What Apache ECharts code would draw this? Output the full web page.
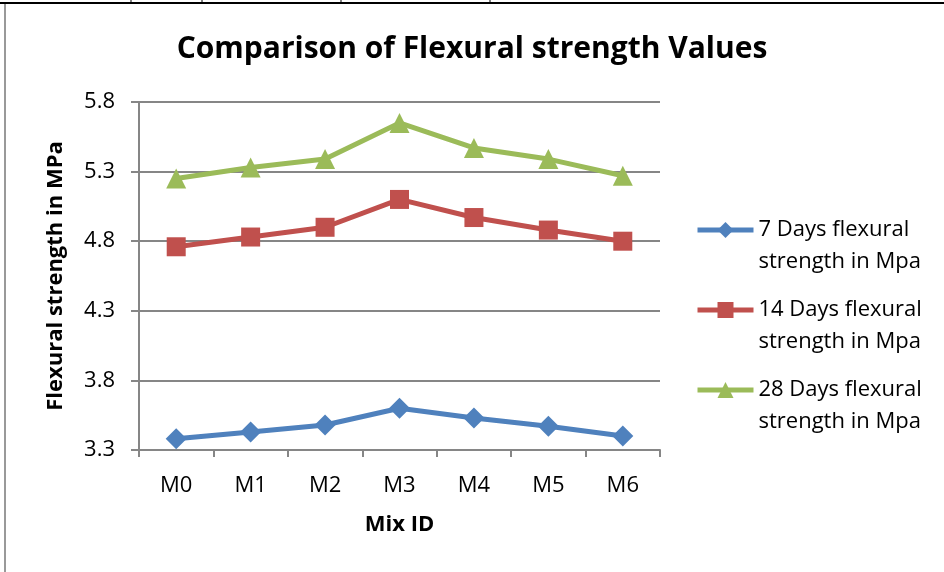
<!DOCTYPE html>
<html>
<head>
<meta charset="utf-8">
<script src="https://cdn.jsdelivr.net/npm/echarts@6/dist/echarts.min.js"></script>
<style>
  html, body { margin: 0; padding: 0; background: #fff; }
  #main { width: 944px; height: 572px; }
</style>
</head>
<body>
<div id="main"></div>
<script>
// data
var mixIds = ['M0', 'M1', 'M2', 'M3', 'M4', 'M5', 'M6'];
var days7 = [3.38, 3.43, 3.48, 3.60, 3.53, 3.47, 3.40];
var days14 = [4.76, 4.83, 4.90, 5.10, 4.97, 4.88, 4.80];
var days28 = [5.25, 5.33, 5.39, 5.65, 5.47, 5.39, 5.27];
var seriesNames = [
  '7 Days flexural\nstrength in Mpa',
  '14 Days flexural\nstrength in Mpa',
  '28 Days flexural\nstrength in Mpa'
];

var font = 'Open Sans';
var chart = echarts.init(document.getElementById('main'));

function line(name, data, color, symbol, size) {
  return {
    name: name,
    type: 'line',
    data: data,
    symbol: symbol,
    symbolSize: size,
    lineStyle: { color: color, width: 5 },
    itemStyle: { color: color },
    emphasis: { disabled: true },
    animation: false
  };
}

chart.setOption({
  backgroundColor: '#fff',
  textStyle: { fontFamily: font },
  title: {
    text: 'Comparison of Flexural strength Values',
    left: 'center',
    top: 29,
    textStyle: { fontFamily: font, fontSize: 30, fontWeight: 'bold', color: '#000' }
  },
  grid: { left: 139, right: 284, top: 102, bottom: 122 },
  legend: {
    orient: 'vertical',
    left: 695,
    top: 182,
    padding: 0,
    itemWidth: 56,
    itemHeight: 20,
    itemGap: -16,
    itemTextGap: 4,
    lineStyle: { width: 5 },
    // blank first line so the icon sits beside the first text line
    formatter: function (name) { return ' \n' + name; },
    textStyle: { fontFamily: font, fontSize: 22, color: '#000', lineHeight: 32 },
    data: seriesNames
  },
  xAxis: {
    type: 'category',
    data: mixIds,
    name: 'Mix ID',
    nameLocation: 'middle',
    nameGap: 64,
    nameTextStyle: { fontFamily: font, fontSize: 22, fontWeight: 'bold', color: '#000' },
    axisLine: { lineStyle: { color: '#868686', width: 2 } },
    axisTick: { show: true, length: 7, lineStyle: { color: '#868686', width: 2 } },
    axisLabel: { fontFamily: font, fontSize: 22, color: '#000', margin: 25 }
  },
  yAxis: {
    type: 'value',
    min: 3.3,
    max: 5.8,
    interval: 0.5,
    name: 'Flexural strength in MPa',
    nameLocation: 'middle',
    nameGap: 72,
    nameTextStyle: { fontFamily: font, fontSize: 22, fontWeight: 'bold', color: '#000' },
    axisLine: { show: true, lineStyle: { color: '#868686', width: 2 } },
    axisTick: { show: true, length: 8, lineStyle: { color: '#868686', width: 2 } },
    axisLabel: { fontFamily: font, fontSize: 22, color: '#000', margin: 24,
      formatter: function (v) { return v.toFixed(1); } },
    splitLine: { lineStyle: { color: '#868686', width: 2 } }
  },
  series: [
    line(seriesNames[0], days7, '#4F81BD', 'diamond', 21),
    line(seriesNames[1], days14, '#C0504D', 'rect', 19),
    line(seriesNames[2], days28, '#9BBB59', 'triangle', 20)
  ],
  graphic: [
    { type: 'line', shape: { x1: 0, y1: 3, x2: 944, y2: 3 }, style: { stroke: '#000', lineWidth: 2 } },
    { type: 'line', shape: { x1: 5, y1: 4, x2: 5, y2: 572 }, style: { stroke: '#999', lineWidth: 2 } },
    { type: 'line', shape: { x1: 131, y1: 0, x2: 131, y2: 3 }, style: { stroke: '#000', lineWidth: 1 } },
    { type: 'line', shape: { x1: 202, y1: 0, x2: 202, y2: 3 }, style: { stroke: '#000', lineWidth: 1 } },
    { type: 'line', shape: { x1: 341, y1: 0, x2: 341, y2: 3 }, style: { stroke: '#000', lineWidth: 1 } },
    { type: 'line', shape: { x1: 490, y1: 0, x2: 490, y2: 3 }, style: { stroke: '#000', lineWidth: 1 } }
  ]
});
</script>
</body>
</html>
